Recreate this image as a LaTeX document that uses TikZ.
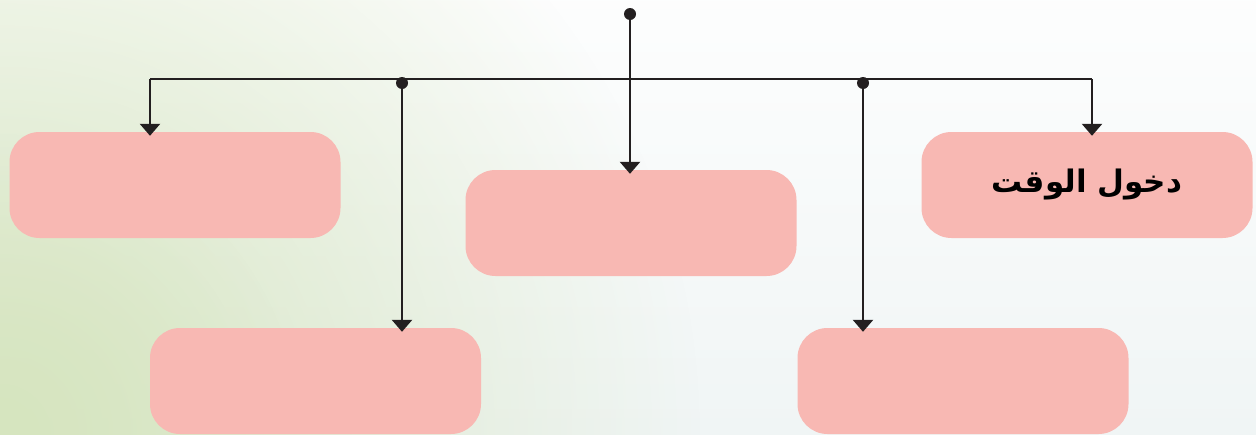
\documentclass[tikz,border=0pt]{standalone}
\usepackage{fontspec}
\usetikzlibrary{arrows.meta,fadings}
\newfontfamily\arabicfont[Script=Arabic]{DejaVu Sans}
\TeXXeTstate=1
\definecolor{boxpink}{HTML}{F8B8B3}
\definecolor{linegray}{HTML}{231F20}
\definecolor{bggreen}{HTML}{D6E5BF}
\definecolor{bgblue}{HTML}{F0F5F5}
\tikzfading[name=softout, inner color=transparent!0, outer color=transparent!100]
\tikzset{
  pinkbox/.style={fill=boxpink, draw=none, rounded corners=30pt, minimum width=331pt, minimum height=106pt, inner sep=0pt},
  conn/.style={draw=linegray, line width=2.6pt},
  arr/.style={conn, -{Triangle[width=20pt,length=12pt]}},
  junction/.style={circle, fill=linegray, inner sep=0pt, minimum size=12pt}
}
\begin{document}
\begin{tikzpicture}[x=1pt,y=-1pt]
\useasboundingbox (0,0) rectangle (1256,434);
% background
\shade[top color=white!85!bgblue, bottom color=bgblue] (0,0) rectangle (1256,434);
\fill[bggreen, path fading=softout] (0,434) circle (700);
\fill[bggreen, path fading=softout, opacity=0.6] (0,434) circle (300);
% boxes
\node[pinkbox] (A) at (175,185) {};
\node[pinkbox] (B) at (631,223) {};
\node[pinkbox] (C) at (1087,185) {\arabicfont\bfseries\fontsize{31}{36}\selectfont\beginR دخول الوقت\endR};
\node[pinkbox] (D) at (315.5,381) {};
\node[pinkbox] (E) at (963,381) {};
% junctions
\node[junction] (top) at (630,14) {};
\coordinate (hl) at (150,79);
\coordinate (hr) at (1092,79);
\node[junction] (jl) at (402,83) {};
\node[junction] (jr) at (863,83) {};
% connectors
\draw[conn] (hl) -- (hr);
\draw[arr] (top.center) -- ([yshift=-4pt]top.center |- B.north);
\draw[arr] (hl) -- ([yshift=-4pt]hl |- A.north);
\draw[arr] (hr) -- ([yshift=-4pt]hr |- C.north);
\draw[arr] (jl.center) -- ([yshift=-4pt]jl.center |- D.north);
\draw[arr] (jr.center) -- ([yshift=-4pt]jr.center |- E.north);
\end{tikzpicture}
\end{document}
